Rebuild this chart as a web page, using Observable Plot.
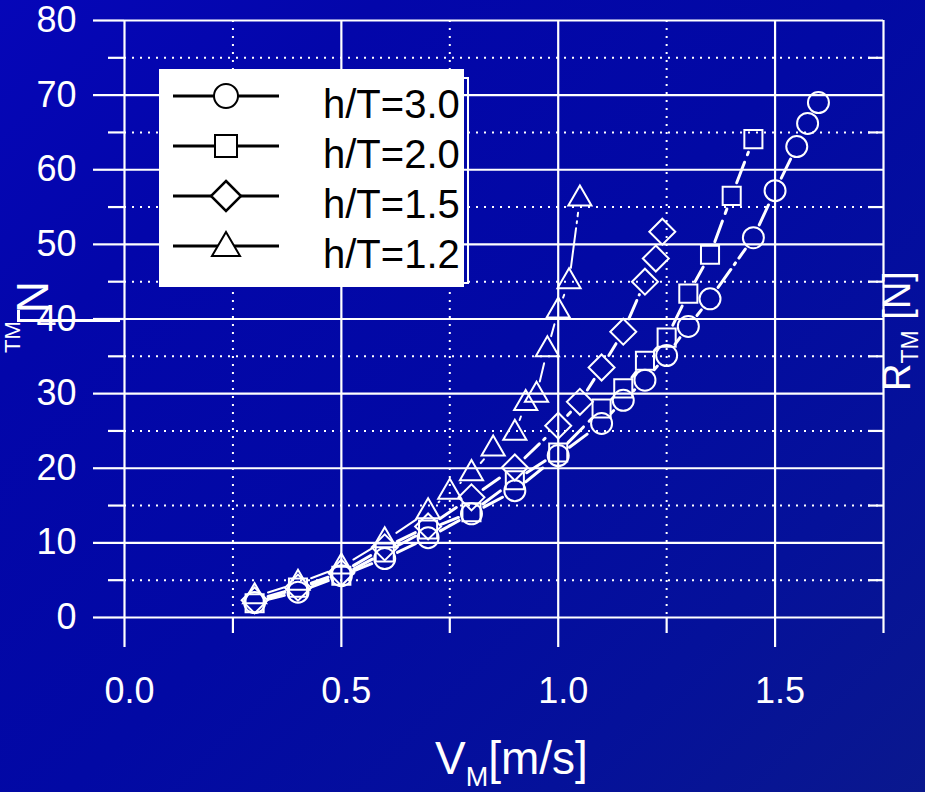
<!DOCTYPE html>
<html><head><meta charset="utf-8">
<script src="https://cdn.jsdelivr.net/npm/d3@7"></script>
<script src="https://cdn.jsdelivr.net/npm/@observablehq/plot@0.6"></script>
<style>
html,body{margin:0;padding:0;}
body{width:925px;height:792px;overflow:hidden;background:linear-gradient(135deg,#0606b8 0%,#0306aa 22%,#0209a4 50%,#05119a 78%,#0a188e 100%);font-family:"Liberation Sans",Arial,sans-serif;}
#wrap{position:relative;width:925px;height:792px;}
#wrap svg{position:absolute;left:0;top:0;}
.lab{position:absolute;color:#fff;white-space:nowrap;line-height:1;}
#legend{position:absolute;left:159px;top:69px;width:305px;height:218px;background:#fff;overflow:hidden;}
#legend .sw{position:absolute;left:14px;}
#legend .tx{position:absolute;left:164px;font-size:40px;line-height:40px;color:#000;white-space:nowrap;}
#bracket{position:absolute;left:462px;top:77px;width:5px;height:203px;border:2px solid #fff;border-left:none;}
</style></head><body><div id="wrap"></div>
<script>
// ---- data ----
const seriesNames = ["h/T=3.0", "h/T=2.0", "h/T=1.5", "h/T=1.2"];
const v30 = [0.3,0.4,0.5,0.6,0.7,0.8,0.9,1.0,1.1,1.15,1.2,1.25,1.3,1.35,1.45,1.5,1.55,1.575,1.6];
const r30 = [2.0,3.4,5.6,7.9,10.7,13.9,17.0,21.7,26.0,29.1,31.8,35.1,39.0,42.7,50.9,57.2,63.1,66.2,69.0];
const v20 = [0.3,0.4,0.5,0.6,0.7,0.8,0.9,1.0,1.1,1.15,1.2,1.25,1.3,1.35,1.4,1.45];
const r20 = [1.9,4.0,5.6,8.7,11.8,14.1,18.4,22.1,28.0,30.7,34.4,37.5,43.4,48.6,56.5,64.1];
const v15 = [0.3,0.4,0.5,0.6,0.7,0.8,0.9,1.0,1.05,1.1,1.15,1.2,1.225,1.24];
const r15 = [2.3,4.0,6.0,9.4,12.2,16.1,20.1,25.7,28.9,33.5,38.3,45.0,48.1,51.7];
const v12 = [0.3,0.4,0.5,0.6,0.7,0.75,0.8,0.85,0.9,0.925,0.95,0.975,1.0,1.025,1.05];
const r12 = [2.8,4.6,6.8,10.3,14.2,16.8,19.3,22.6,24.7,28.7,29.8,35.9,41.1,45.0,56.1];
const xMajorTicks = [0, 0.5, 1.0, 1.5];
const xMinorTicks = [0.25, 0.75, 1.25, 1.75];
const yMajorTicks = [0,10,20,30,40,50,60,70,80];
const yMinorTicks = [5,15,25,35,45,55,65,75];
const xAxisLabel = "V", xAxisSub = "M", xAxisUnit = "[m/s]";
const yAxisLabel = "R", yAxisSub = "TM", yAxisUnit = "[N]";

// ---- build tables ----
const valueSets = [[v30,r30],[v20,r20],[v15,r15],[v12,r12]];
const pts = valueSets.map(([vs, rs], k) => vs.map((v, i) => ({v, r: rs[i], s: seriesNames[k]})));
const segs = pts.map(p => d3.pairs(p).map(([a, b]) => ({v1: a.v, r1: a.r, v2: b.v, r2: b.r})));

const symbols = ["circle", "square", "diamond2", "triangle"];
const radii = [10.5, 10.2, 11.7, 8.6];
const dashes = ["22,6,2,6", "22,8", "20,6,2,6", "40,5,2,5"];
const widths = [3, 3, 3, 2];
const W = "white";

const marks = [
  Plot.ruleY(yMinorTicks, {stroke: W, strokeWidth: 2, strokeDasharray: "2,6"}),
  Plot.ruleX(xMinorTicks.slice(0, 3), {stroke: W, strokeWidth: 2, strokeDasharray: "2,6"}),
  Plot.ruleY(yMajorTicks, {stroke: W, strokeWidth: 2.2}),
  Plot.ruleX([...xMajorTicks, 1.75], {stroke: W, strokeWidth: 2.2}),
  Plot.axisY({ticks: yMajorTicks, tickSize: 31, tickPadding: 17, strokeWidth: 2.2, label: null, tickFormat: d => String(d)}),
  Plot.axisY({ticks: yMinorTicks, tickSize: 16, strokeWidth: 2.2, label: null, tickFormat: () => ""}),
  Plot.axisY({anchor: "right", ticks: yMinorTicks, tickSize: -16, strokeWidth: 2.2, label: null, tickFormat: () => ""}),
  Plot.axisX({ticks: xMajorTicks, tickSize: 30, strokeWidth: 2.2, label: null, tickFormat: () => ""}),
  Plot.axisX({ticks: xMajorTicks, tickSize: 0, tickPadding: 60, dx: 5, label: null, tickFormat: d3.format(".1f")}),
  Plot.axisX({ticks: xMinorTicks, tickSize: 16, strokeWidth: 2.2, label: null, tickFormat: () => ""})
];
segs.forEach((sg, k) => {
  marks.push(Plot.arrow(sg, {x1: "v1", y1: "r1", x2: "v2", y2: "r2", headLength: 0, inset: 14,
    stroke: W, strokeWidth: widths[k], strokeDasharray: dashes[k]}));
});
pts.forEach((p, k) => {
  marks.push(Plot.dot(p, {x: "v", y: "r", symbol: () => symbols[k], r: radii[k], stroke: W, strokeWidth: 2, fill: "none"}));
});

const chart = Plot.plot({
  width: 925, height: 792,
  marginTop: 20, marginRight: 42, marginBottom: 175, marginLeft: 124,
  x: {domain: [0, 1.75]},
  y: {domain: [0, 80]},
  symbol: {type: "identity"},
  style: {background: "transparent", color: "white", fontSize: "36px", fontFamily: "'Liberation Sans', Arial, sans-serif", overflow: "visible"},
  marks
});
const wrap = document.getElementById("wrap");
wrap.appendChild(chart);

// ---- legend ----
const leg = document.createElement("div");
leg.id = "legend";
const swatch = [
  '<circle cx="53" cy="20" r="12" fill="#fff" stroke="#000" stroke-width="2"/>',
  '<rect x="42" y="9" width="22" height="22" fill="#fff" stroke="#000" stroke-width="2"/>',
  '<path d="M53 5 L68 20 L53 35 L38 20 Z" fill="#fff" stroke="#000" stroke-width="2.5"/>',
  '<path d="M53 6 L67 30 L39 30 Z" fill="#fff" stroke="#000" stroke-width="2"/>'
];
seriesNames.forEach((n, i) => {
  const s = document.createElement("div");
  s.className = "sw";
  s.style.top = (7 + 50 * i) + "px";
  s.innerHTML = '<svg width="106" height="40"><line x1="0" y1="20" x2="106" y2="20" stroke="#000" stroke-width="3"/>' + swatch[i] + '</svg>';
  leg.appendChild(s);
  const t = document.createElement("div");
  t.className = "tx";
  t.style.top = (15 + 50 * i) + "px";
  t.textContent = n;
  leg.appendChild(t);
});
wrap.appendChild(leg);
const br = document.createElement("div"); br.id = "bracket"; wrap.appendChild(br);

// ---- axis titles ----
const xl = document.createElement("div");
xl.className = "lab";
xl.style.cssText += "left:435px;top:735px;font-size:46px;";
xl.innerHTML = xAxisLabel + '<span style="font-size:27px;position:relative;top:12px;">' + xAxisSub + '</span>' + xAxisUnit;
wrap.appendChild(xl);

const yr = document.createElement("div");
yr.className = "lab";
yr.style.cssText += "left:897px;top:331px;font-size:38px;transform:translate(-50%,-50%) rotate(-90deg);";
yr.innerHTML = yAxisLabel + '<span style="font-size:23px;position:relative;top:8px;">' + yAxisSub + '</span> ' + yAxisUnit;
wrap.appendChild(yr);

// left (partly hidden) duplicate title fragments
const yl1 = document.createElement("div");
yl1.className = "lab";
yl1.style.cssText += "left:33px;top:297px;font-size:44px;transform:translate(-50%,-50%) rotate(-90deg);";
yl1.textContent = "N";
wrap.appendChild(yl1);
const yl2 = document.createElement("div");
yl2.className = "lab";
yl2.style.cssText += "left:13px;top:337px;font-size:22px;transform:translate(-50%,-50%) rotate(-90deg);";
yl2.textContent = yAxisSub;
wrap.appendChild(yl2);
const yl3 = document.createElement("div");
yl3.style.cssText = "position:absolute;left:17px;top:310px;width:100px;height:9px;border-left:3px solid #fff;border-bottom:3px solid #fff;";
wrap.insertBefore(yl3, chart);
</script>
</body></html>
